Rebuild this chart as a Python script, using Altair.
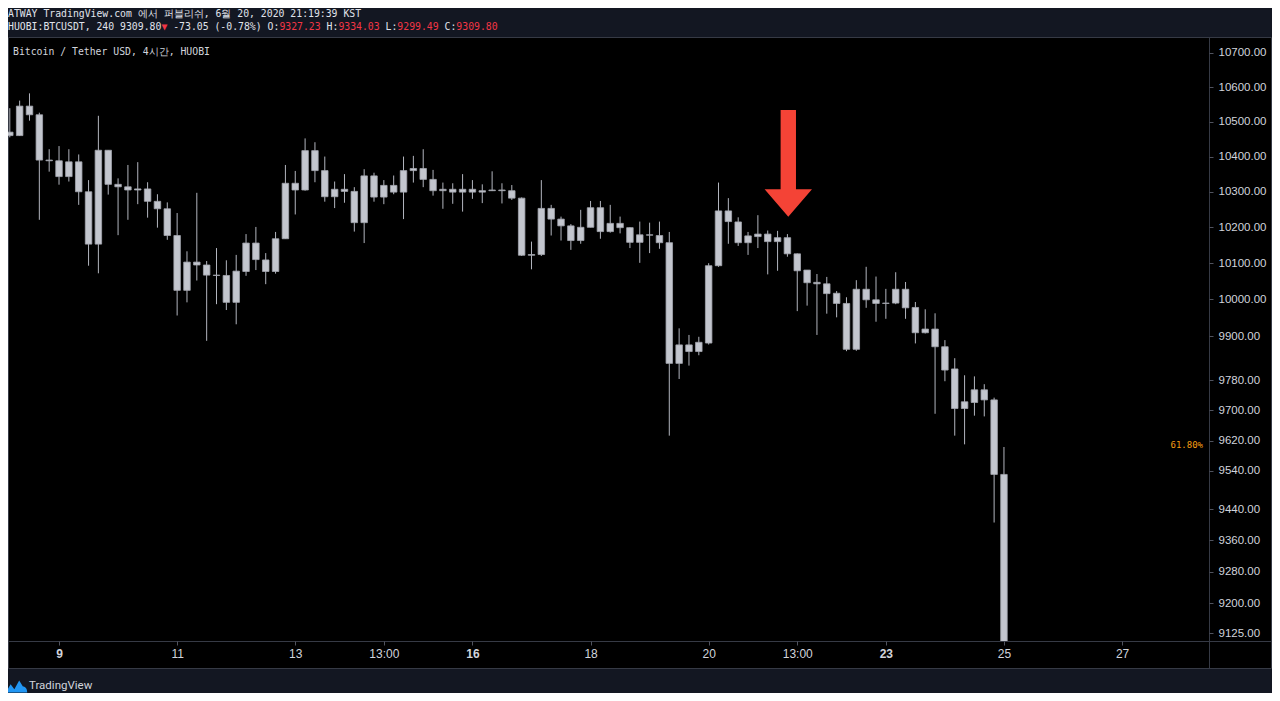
import altair as alt
import pandas as pd

# ---- candle data (4h, HUOBI BTCUSDT) ----
opens = [10470, 10460, 10545, 10520, 10390, 10388, 10343, 10385, 10300, 10153,
         10418, 10321, 10314, 10305, 10308, 10273, 10252, 10177, 10025, 10103,
         10095, 10067, 10066, 9992, 10077, 10156, 10109, 10077, 10168, 10324,
         10305, 10417, 10360, 10286, 10307, 10301, 10213, 10345, 10285, 10318,
         10299, 10360, 10366, 10335, 10303, 10307, 10299, 10307, 10299, 10303,
         10305, 10303, 10282, 10122, 10124, 10253, 10223, 10204, 10163, 10200,
         10255, 10188, 10211, 10199, 10158, 10179, 10177, 10157, 9826, 9876,
         9858, 9881, 10093, 10246, 10215, 10157, 10174, 10181, 10160, 10171,
         10126, 10081, 10047, 10043, 10017, 9989, 9864, 10028, 9999, 9989,
         9990, 10028, 9978, 9909, 9919, 9871, 9811, 9705, 9721, 9755,
         9728, 9531]
highs = [10539, 10561, 10582, 10526, 10421, 10430, 10421, 10406, 10333, 10517,
         10418, 10338, 10376, 10384, 10327, 10293, 10270, 10240, 10133, 10297,
         10106, 10142, 10108, 10123, 10181, 10201, 10128, 10187, 10376, 10359,
         10452, 10441, 10400, 10329, 10350, 10313, 10364, 10354, 10333, 10346,
         10400, 10402, 10421, 10362, 10326, 10324, 10350, 10333, 10321, 10358,
         10324, 10319, 10284, 10160, 10333, 10263, 10230, 10209, 10249, 10274,
         10274, 10263, 10230, 10200, 10216, 10213, 10216, 10187, 9921, 9903,
         9898, 10100, 10326, 10282, 10228, 10187, 10234, 10191, 10190, 10181,
         10127, 10081, 10070, 10062, 10023, 10006, 10053, 10090, 10063, 10029,
         10075, 10048, 9993, 9973, 9962, 9889, 9840, 9794, 9791, 9770,
         9734, 9603]
lows = [10455, 10459, 10503, 10221, 10357, 10320, 10329, 10263, 10093, 10072,
        10292, 10178, 10221, 10265, 10227, 10199, 10165, 9956, 9992, 10052,
        9887, 9987, 9971, 9932, 10065, 10081, 10042, 10071, 10168, 10236,
        10303, 10327, 10272, 10254, 10269, 10188, 10156, 10272, 10265, 10293,
        10223, 10326, 10313, 10289, 10252, 10266, 10244, 10280, 10268, 10302,
        10267, 10277, 10120, 10083, 10120, 10177, 10163, 10137, 10154, 10200,
        10168, 10185, 10183, 10142, 10101, 10128, 10140, 9633, 9784, 9820,
        9848, 9877, 10090, 10154, 10148, 10123, 10142, 10069, 10079, 10118,
        9968, 9983, 9903, 9961, 9951, 9859, 9860, 9977, 9939, 9947,
        9987, 9947, 9880, 9907, 9691, 9778, 9633, 9610, 9686, 9684,
        9406, 9020]
closes = [10460, 10545, 10520, 10390, 10388, 10343, 10385, 10300, 10153, 10418,
          10321, 10314, 10305, 10308, 10273, 10252, 10177, 10025, 10103, 10095,
          10067, 10066, 9992, 10078, 10156, 10110, 10077, 10168, 10324, 10305,
          10417, 10360, 10286, 10307, 10301, 10213, 10345, 10285, 10318, 10299,
          10360, 10366, 10335, 10303, 10307, 10299, 10307, 10299, 10303, 10305,
          10303, 10282, 10122, 10124, 10253, 10223, 10204, 10163, 10200, 10255,
          10188, 10211, 10199, 10158, 10179, 10178, 10157, 9826, 9876, 9858,
          9883, 10093, 10246, 10216, 10157, 10176, 10181, 10160, 10171, 10126,
          10079, 10046, 10043, 10016, 9989, 9864, 10028, 9999, 9989, 9990,
          10028, 9977, 9909, 9919, 9871, 9808, 9705, 9723, 9755, 9728,
          9531, 9050]

x_tick_idx = [5, 17, 29, 38, 47, 59, 71, 80, 89, 101, 113]
x_tick_lbl = ["9", "11", "13", "13:00", "16", "18", "20", "13:00", "23", "25", "27"]
x_bold_idx = [5, 47, 89]
y_ticks = [10700, 10600, 10500, 10400, 10300, 10200, 10100, 10000, 9900, 9780,
           9700, 9620, 9540, 9440, 9360, 9280, 9200, 9125]
fib_level_price = 9608
fib_level_text = "61.80%"

header_line1 = "ATWAY TradingView.com 에서 퍼블리쉬, 6월 20, 2020 21:19:39 KST"
header_line2 = [("HUOBI:BTCUSDT, 240 9309.80", "w"), ("▼", "r"),
                (" -73.05 (-0.78%) O:", "w"), ("9327.23", "r"),
                (" H:", "w"), ("9334.03", "r"), (" L:", "w"), ("9299.49", "r"),
                (" C:", "w"), ("9309.80", "r")]
symbol_title = "Bitcoin / Tether USD, 4시간, HUOBI"
brand_text = "TradingView"

# ---- styling ----
W, H = 1201, 604
PANEL_W, PANEL_H = 1264, 632
NAVY = "#131722"
TXT = "#d1d4dc"
RED = "#f23645"
CANDLE = "#b2b5be"
MONO = "DejaVu Sans Mono"
SANS = "Liberation Sans"

df = pd.DataFrame({"i": list(range(len(opens))), "open": opens, "high": highs,
                   "low": lows, "close": closes})
df["top"] = df[["open", "close"]].max(axis=1)
df["bot"] = df[["open", "close"]].min(axis=1)

xscale = alt.Scale(domain=[-0.183, 121.83], nice=False, zero=False, padding=0)
yscale = alt.Scale(type="log", domain=[9105, 10747], nice=False, zero=False, padding=0)

lbl_expr = "[" + ",".join("'%s'" % s for s in x_tick_lbl) + "][indexof([" + \
    ",".join(str(v) for v in x_tick_idx) + "], datum.value)]"
bold_test = "indexof([" + ",".join(str(v) for v in x_bold_idx) + "], datum.value) >= 0"

xaxis = alt.Axis(values=x_tick_idx, labelExpr=lbl_expr, grid=False, domain=False,
                 ticks=True, tickSize=4, tickColor="#50535e", labelColor=TXT,
                 labelFont=SANS, labelFontSize=12, labelPadding=3,
                 labelOverlap=False, labelFlush=False, zindex=2,
                 labelFontWeight={"condition": {"test": bold_test, "value": "bold"},
                                  "value": "normal"},
                 title=None)
yaxis = alt.Axis(orient="right", values=y_ticks, format=".2f", grid=False,
                 domain=False, ticks=True, tickSize=4, tickColor="#50535e",
                 labelColor=TXT, labelFont=SANS, labelFontSize=11.5,
                 labelPadding=5, labelAlign="left", labelBaseline="middle",
                 labelOverlap=False, labelFlush=False, zindex=2, title=None)

one = pd.DataFrame({"a": [0]})

panel = alt.Chart(one).mark_rect(fill="#000000", stroke="#363a45", strokeWidth=1).encode(
    x=alt.value(0.5), x2=alt.value(PANEL_W - 0.5), y=alt.value(0.5), y2=alt.value(PANEL_H - 0.5))
vsep = alt.Chart(one).mark_rule(color="#363a45", strokeWidth=1).encode(
    x=alt.value(W + 0.5), y=alt.value(0), y2=alt.value(PANEL_H))
hsep = alt.Chart(one).mark_rule(color="#363a45", strokeWidth=1).encode(
    x=alt.value(0), x2=alt.value(PANEL_W), y=alt.value(H + 0.5))

wicks = alt.Chart(df).mark_rule(color=CANDLE, strokeWidth=1, clip=True).encode(
    x=alt.X("i:Q", scale=xscale, axis=xaxis),
    y=alt.Y("low:Q", scale=yscale, axis=yaxis),
    y2="high:Q")
bodies = alt.Chart(df).mark_bar(size=6.5, fill="#c3c6ce", stroke="#a3a6ae",
                                strokeWidth=0.8, clip=True).encode(
    x=alt.X("i:Q", scale=xscale, axis=xaxis),
    y=alt.Y("bot:Q", scale=yscale, axis=yaxis),
    y2="top:Q")

arrow_path = ("M -0.144 -1 L 0.144 -1 L 0.144 0.488 L 0.444 0.488 L 0 1 "
              "L -0.444 0.488 L -0.144 0.488 Z")
arrow = alt.Chart(one).mark_point(shape=arrow_path, size=11378, filled=True,
                                  color="#f44336", opacity=1, strokeWidth=0).encode(
    x=alt.value(780.3), y=alt.value(126.3))

fib = alt.Chart(one).mark_text(font=MONO, fontSize=9, color="#f39c12", align="right",
                               baseline="middle").encode(
    x=alt.value(W - 6), y=alt.Y(datum=fib_level_price, scale=yscale), text=alt.value(fib_level_text))


def txt(s, x, y, color, font=MONO, size=9.8, weight="normal"):
    return alt.Chart(one).mark_text(font=font, fontSize=size, color=color, align="left",
                                    baseline="middle", fontWeight=weight).encode(
        x=alt.value(x), y=alt.value(y), text=alt.value(s))


texts = [txt(header_line1, 0, -23, "#e0e3eb"), txt(symbol_title, 5, 15, TXT)]
cw = 0.602 * 9.8
pos = 0
for seg, col in header_line2:
    stripped = seg.lstrip(" ")
    lead = len(seg) - len(stripped)
    texts.append(txt(stripped, (pos + lead) * cw, -10, "#e0e3eb" if col == "w" else RED))
    pos += len(seg)

logo_path = ("M -1 0.55 L -0.55 -0.2 L -0.2 0.25 L 0.25 -0.55 L 0.6 0.0 "
             "C 0.85 0.0 1 0.25 1 0.55 Z")
logo = alt.Chart(one).mark_point(shape=logo_path, size=458, filled=True,
                                 color="#2196f3", opacity=1, strokeWidth=0).encode(
    x=alt.value(8.5), y=alt.value(649.5))
brand = txt(brand_text, 21, 649, TXT, font="Roboto", size=11.5)

chart = alt.layer(panel, vsep, hsep, wicks, bodies, arrow, fib, logo, brand, *texts).properties(
    width=W, height=H,
    autosize=alt.AutoSizeParams(type="none"),
    padding={"left": 0, "top": 29, "right": 63, "bottom": 52},
).configure(background=NAVY).configure_view(strokeWidth=0)

chart.save("out.html", embed_options={"renderer": "svg", "actions": False})
